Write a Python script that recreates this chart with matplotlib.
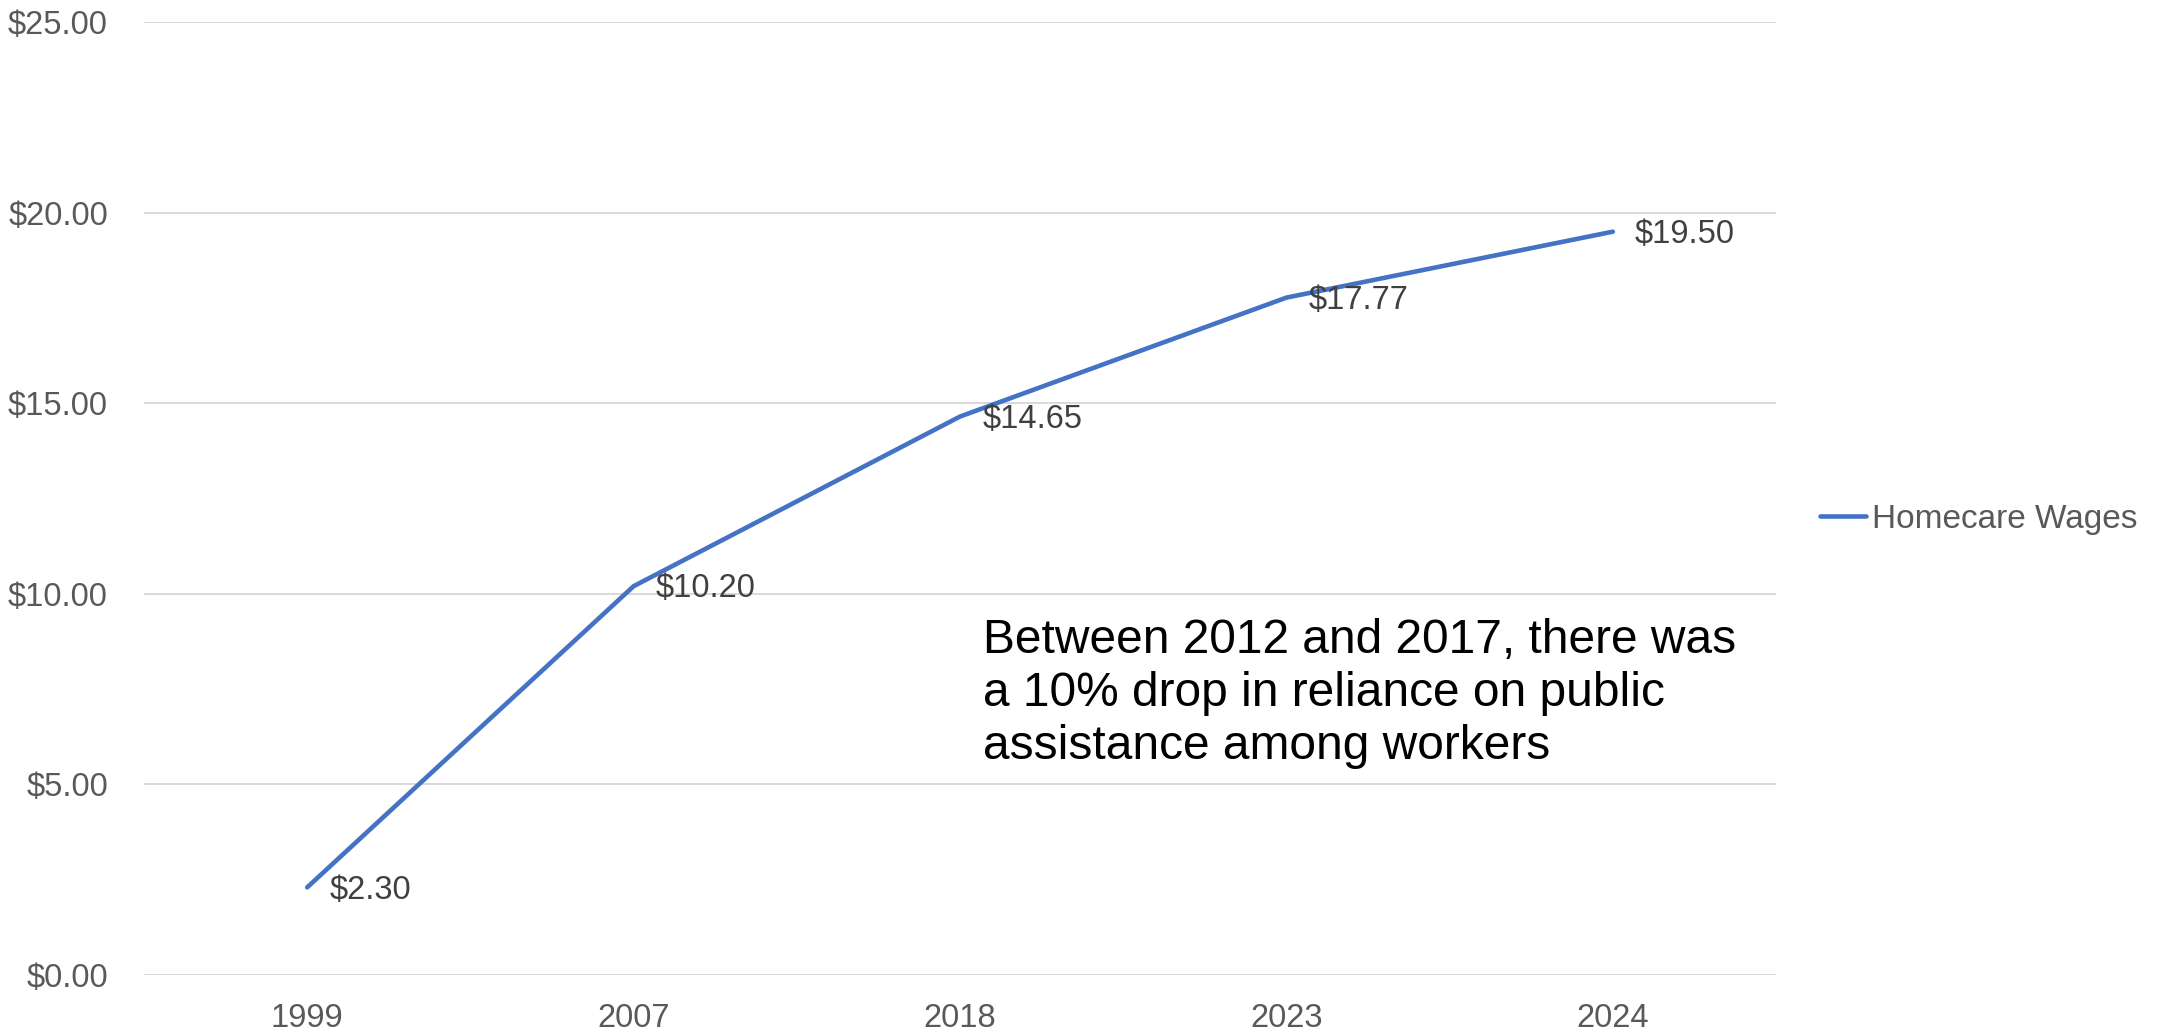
import matplotlib.pyplot as plt
from matplotlib.ticker import FuncFormatter

years = ['1999', '2007', '2018', '2023', '2024']
wages = [2.30, 10.20, 14.65, 17.77, 19.50]
yticks = [0, 5, 10, 15, 20, 25]
note = 'Between 2012 and 2017, there was\na 10% drop in reliance on public\nassistance among workers'

plt.rcParams['font.family'] = ['Liberation Sans', 'DejaVu Sans']

fig = plt.figure(figsize=(21.59, 10.33), dpi=100)
ax = fig.add_axes([0.0667, 0.0561, 0.7559, 0.9226])

x = list(range(len(years)))
ax.plot(x, wages, color='#4472C4', lw=3.3, solid_capstyle='round',
        solid_joinstyle='round', label='Homecare Wages', zorder=3)

for xi, v in zip(x, wages):
    ax.annotate('${:.2f}'.format(v), (xi, v), xytext=(16, -2),
                textcoords='offset points', ha='left', va='center',
                fontsize=23.5, color='#404040')

ax.set_xlim(-0.5, len(years) - 0.5)
ax.set_ylim(0, 25)
ax.set_xticks(x)
ax.set_xticklabels(years)
ax.set_yticks(yticks)
ax.yaxis.set_major_formatter(FuncFormatter(lambda v, p: '${:.2f}'.format(v)))
ax.tick_params(axis='both', length=0, labelsize=23.5, labelcolor='#595959')
ax.tick_params(axis='y', pad=26)
ax.tick_params(axis='x', pad=20)
ax.grid(axis='y', color='#D9D9D9', lw=1.4)
ax.set_axisbelow(True)
for s in ax.spines.values():
    s.set_visible(False)

ax.text(0.514, 0.375, note, transform=ax.transAxes, ha='left', va='top',
        fontsize=34.5, color='black', linespacing=1.24)

fig.legend(loc='center left', bbox_to_anchor=(0.829, 0.497), frameon=False,
           fontsize=24, labelcolor='#595959', handlelength=1.4,
           handletextpad=0.17)

fig.savefig('out.png', dpi=100)
